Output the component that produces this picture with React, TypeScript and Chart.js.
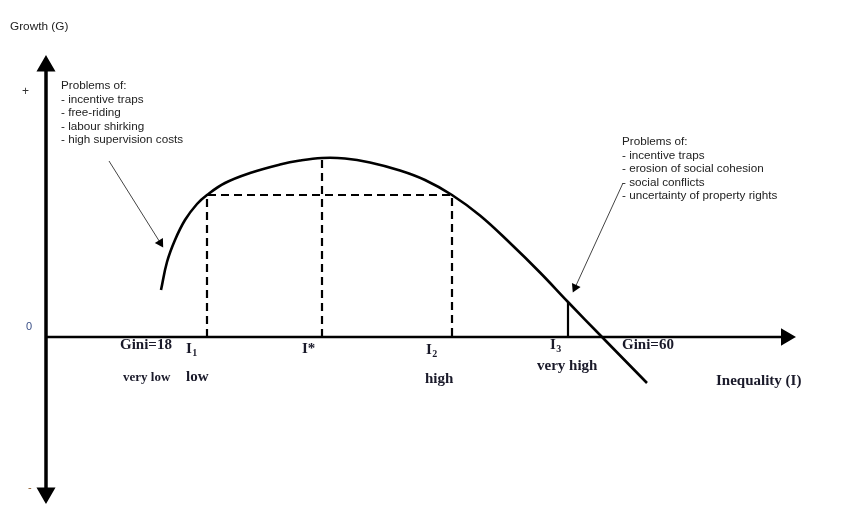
import React, { useEffect, useRef } from "react";
import { Chart, registerables } from "chart.js";

Chart.register(...registerables);

// Growth curve: inequality index (arbitrary units) vs growth (arbitrary units)
const curveInequality = [16.1, 16.7, 17.5, 18.5, 19.7, 20.7, 22.5, 25, 28, 30, 32.2, 34.5, 37, 40, 42.5, 45.2, 48, 51, 54, 56.8, 60.2, 64.7];
const curveGrowth = [0.47, 0.75, 0.97, 1.17, 1.33, 1.42, 1.54, 1.64, 1.725, 1.765, 1.79, 1.785, 1.745, 1.665, 1.57, 1.42, 1.215, 0.94, 0.645, 0.35, 0, -0.46];

// Reference levels
const markerInequality = [20.7, 32.2, 45.2, 56.8]; // I1, I*, I2, I3
const markerGrowth = [1.42, 1.79, 1.42, 0.35];

// Axes extents
const xAxisExtent = [4.6, 78.6];
const yAxisExtent = [-1.56, 2.71];

// Annotation arrows [start, head]
const leftArrowX = [10.9, 16.03];
const leftArrowY = [1.76, 0.942];
const rightArrowX = [62.3, 57.51];
const rightArrowY = [1.54, 0.495];

const leftProblems = ["Problems of:", "- incentive traps", "- free-riding", "- labour shirking", "- high supervision costs"];
const rightProblems = ["Problems of:", "- incentive traps", "- erosion of social cohesion", "- social conflicts", "- uncertainty of property rights"];

const SANS = '"Liberation Sans", Arial, sans-serif';
const SERIF = '"Liberation Serif", "Times New Roman", serif';
const INK = "#1a1a2a";

type Lbl = { x: number; y: number; text: string; font: string; color?: string; sub?: string; subFont?: string };

const labels: Lbl[] = [
  { x: 1.0, y: 3.1, text: "Growth (G)", font: `11.8px ${SANS}`, color: "#222" },
  { x: 2.2, y: 2.45, text: "+", font: `12px ${SANS}`, color: "#333" },
  { x: 2.6, y: 0.1, text: "0", font: `11px ${SANS}`, color: "#3a4f86" },
  { x: 2.8, y: -1.51, text: "-", font: `11px ${SANS}`, color: "#8a5a2a" },
  ...leftProblems.map((t, i) => ({ x: 6.1, y: 2.51 - i * 0.135, text: t, font: `11.7px ${SANS}`, color: "#222" })),
  ...rightProblems.map((t, i) => ({ x: 62.2, y: 1.95 - i * 0.135, text: t, font: `11.7px ${SANS}`, color: "#222" })),
  { x: 12.0, y: -0.085, text: "Gini=18", font: `bold 15px ${SERIF}`, color: INK },
  { x: 18.6, y: -0.12, text: "I", sub: "1", font: `bold 15px ${SERIF}`, subFont: `bold 10px ${SERIF}`, color: INK },
  { x: 30.2, y: -0.12, text: "I*", font: `bold 15px ${SERIF}`, color: INK },
  { x: 42.6, y: -0.13, text: "I", sub: "2", font: `bold 15px ${SERIF}`, subFont: `bold 10px ${SERIF}`, color: INK },
  { x: 55.0, y: -0.085, text: "I", sub: "3", font: `bold 15px ${SERIF}`, subFont: `bold 10px ${SERIF}`, color: INK },
  { x: 62.2, y: -0.085, text: "Gini=60", font: `bold 15px ${SERIF}`, color: INK },
  { x: 12.3, y: -0.405, text: "very low", font: `bold 13px ${SERIF}`, color: INK },
  { x: 18.6, y: -0.405, text: "low", font: `bold 15px ${SERIF}`, color: INK },
  { x: 42.5, y: -0.42, text: "high", font: `bold 15px ${SERIF}`, color: INK },
  { x: 53.7, y: -0.29, text: "very high", font: `bold 15px ${SERIF}`, color: INK },
  { x: 71.6, y: -0.44, text: "Inequality (I)", font: `bold 15px ${SERIF}`, color: INK },
];

const textPlugin = {
  id: "diagramText",
  afterDatasetsDraw(chart: any) {
    const { ctx, scales } = chart;
    ctx.save();
    ctx.textBaseline = "middle";
    ctx.textAlign = "left";
    for (const l of labels) {
      const px = scales.x.getPixelForValue(l.x);
      const py = scales.y.getPixelForValue(l.y);
      ctx.font = l.font;
      ctx.fillStyle = l.color || "#000";
      ctx.fillText(l.text, px, py);
      if (l.sub) {
        const w = ctx.measureText(l.text).width;
        ctx.font = l.subFont || l.font;
        ctx.fillText(l.sub, px + w + 0.5, py + 4);
      }
    }
    ctx.restore();
  },
};

const pts = (xs: number[], ys: number[]) => xs.map((x, i) => ({ x, y: ys[i] }));

export default function App() {
  const ref = useRef<HTMLCanvasElement | null>(null);
  useEffect(() => {
    document.body.style.margin = "0";
    const canvas = ref.current;
    if (!canvas) return;
    const [i1, is, i2, i3] = markerInequality;
    const [g1, gs, , g3] = markerGrowth;
    const line = (data: any[], extra: any = {}) => ({
      data,
      borderColor: "#000",
      backgroundColor: "#000",
      borderWidth: 2.5,
      pointRadius: 0,
      fill: false,
      tension: 0,
      ...extra,
    });
    const chart = new Chart(canvas, {
      type: "scatter",
      data: {
        datasets: [
          // y axis
          line(
            [{ x: xAxisExtent[0], y: yAxisExtent[0] }, { x: xAxisExtent[0], y: yAxisExtent[1] }],
            { showLine: true, borderWidth: 3.5, pointStyle: "triangle", pointRadius: 7.5, pointRotation: [180, 0] }
          ),
          // x axis
          line(
            [{ x: xAxisExtent[0], y: 0 }, { x: xAxisExtent[1], y: 0 }],
            { showLine: true, borderWidth: 2.5, pointStyle: "triangle", pointRadius: [0, 7.5], pointRotation: 90 }
          ),
          // dashed I1 - I2 box
          line(
            [{ x: i1, y: 0 }, { x: i1, y: g1 }, { x: i2, y: g1 }, { x: i2, y: 0 }],
            { showLine: true, borderWidth: 2.2, borderDash: [8, 5] }
          ),
          // dashed I*
          line([{ x: is, y: 0 }, { x: is, y: gs }], { showLine: true, borderWidth: 2.2, borderDash: [8, 5] }),
          // solid I3
          line([{ x: i3, y: 0 }, { x: i3, y: g3 }], { showLine: true, borderWidth: 2.2 }),
          // curve
          line(pts(curveInequality, curveGrowth), { showLine: true, borderWidth: 2.6, tension: 0.4 }),
          // annotation arrows
          line(pts(leftArrowX, leftArrowY), {
            showLine: true, borderWidth: 1, borderColor: "#444", backgroundColor: "#000",
            pointStyle: "triangle", pointRadius: [0, 5.5], pointRotation: 148, pointBorderWidth: 0,
          }),
          line(pts(rightArrowX, rightArrowY), {
            showLine: true, borderWidth: 1, borderColor: "#444", backgroundColor: "#000",
            pointStyle: "triangle", pointRadius: [0, 5.5], pointRotation: 205, pointBorderWidth: 0,
          }),
        ],
      },
      options: {
        animation: false,
        responsive: false,
        layout: { padding: 0, autoPadding: false },
        plugins: { legend: { display: false }, tooltip: { enabled: false } },
        scales: {
          x: { type: "linear", display: false, min: 0, max: 85 },
          y: { type: "linear", display: false, min: -1.81, max: 3.37 },
        },
      } as any,
      plugins: [textPlugin],
    });
    return () => chart.destroy();
  }, []);
  return (
    <div style={{ position: "absolute", left: 0, top: 0, width: 850, height: 518, background: "#fff" }}>
      <canvas ref={ref} width={850} height={518} style={{ width: 850, height: 518 }} />
    </div>
  );
}
